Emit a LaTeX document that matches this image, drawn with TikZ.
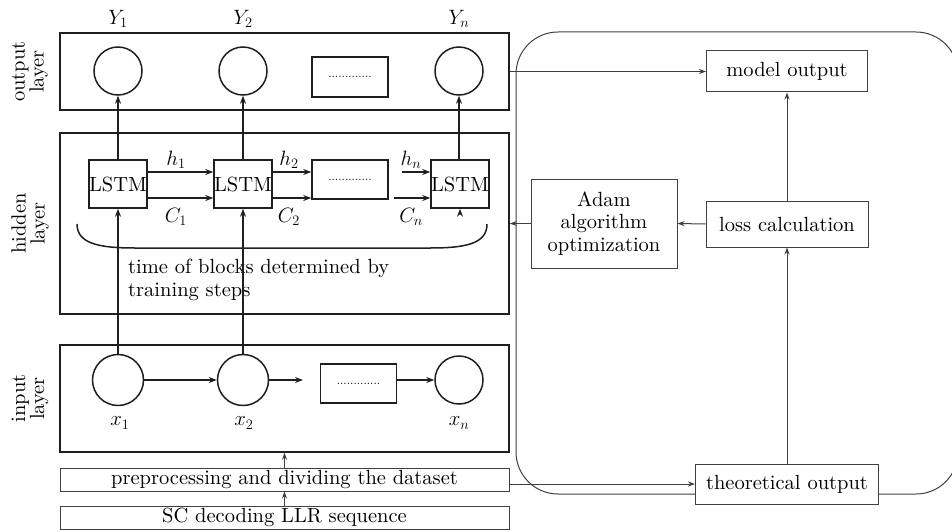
\documentclass[tikz,border=0pt]{standalone}
\usepackage{fontspec}
\setmainfont{lmroman10-regular.otf}[ItalicFont=lmroman10-italic.otf, BoldFont=lmroman10-bold.otf]
\usetikzlibrary{arrows.meta}
\begin{document}
\begin{tikzpicture}[x=1pt,y=-1pt,
  font=\fontsize{20.5}{22.5}\selectfont,
  thick/.style={line width=1.5pt, draw=black!88},
  thin/.style={line width=1pt, draw=black!75},
  layerbox/.style={thick, rectangle, inner sep=0pt},
  lstm/.style={thick, rectangle, inner sep=0pt, minimum width=58pt, minimum height=48pt},
  dotbox/.style={thick, rectangle, inner sep=0pt, minimum width=76pt, minimum height=39pt, font=\fontsize{12}{12}\selectfont},
  outc/.style={thick, circle, inner sep=0pt, minimum size=48pt},
  inc/.style={thick, circle, inner sep=0pt, minimum size=51pt},
  rbox/.style={thin, rectangle, inner sep=0pt, fill=white, align=center},
  arr/.style={thick, -{Stealth[length=8pt,width=6pt]}},
  rarr/.style={thin, -{Stealth[length=7pt,width=5pt]}},
  lbl/.style={inner sep=0pt},
  side/.style={rotate=90, align=center, inner sep=0pt, font=\fontsize{20.5}{19}\selectfont}
]
\useasboundingbox (0,0) rectangle (952,532);

% layer boxes
\node[layerbox, minimum width=449pt, minimum height=77pt] (outL) at (284.5,71.5) {};
\node[layerbox, minimum width=449pt, minimum height=181pt] (hidL) at (284.5,223.5) {};
\node[layerbox, minimum width=449pt, minimum height=107pt] (inL) at (284.5,398.5) {};
\node[thin, rectangle, inner sep=0pt, minimum width=449pt, minimum height=23pt] (pre) at (284.5,479.5) {preprocessing and dividing the dataset};
\node[thin, rectangle, inner sep=0pt, minimum width=449pt, minimum height=23pt] (sc) at (284.5,517.5) {SC decoding LLR sequence};

% side labels
\node[side] (lo) at (30,71.5) {output\\layer};
\node[side] (lh) at (30,223.5) {hidden\\layer};
\node[side] (li) at (30,398.5) {input\\layer};

% output layer
\node[outc] (Y1) at (118,71) {};
\node[outc] (Y2) at (243,71) {};
\node[outc] (Yn) at (459,71) {};
\node[dotbox, minimum height=40pt] (OD) at (350,77) {.............};
\node[lbl] (tY1) at (118,19) {$Y_1$};
\node[lbl] (tY2) at (243,19) {$Y_2$};
\node[lbl] (tYn) at (459,19) {$Y_n$};

% hidden layer
\node[lstm] (L1) at (118,184) {LSTM};
\node[lstm] (L2) at (243,184) {LSTM};
\node[lstm] (L3) at (460,184) {LSTM};
\node[dotbox] (HD) at (350,179.5) {.............};
\draw[arr] ([yshift=12pt]L1.east) -- ([yshift=12pt]L1.east -| L2.west);
\draw[arr] ([yshift=-14pt]L1.east) -- ([yshift=-14pt]L1.east -| L2.west);
\draw[arr] ([yshift=12pt]L2.east) -- ([yshift=12pt]L2.east -| HD.west);
\draw[arr] ([yshift=-14pt]L2.east) -- ([yshift=-14pt]L2.east -| HD.west);
\coordinate (hnS) at (402,172);
\coordinate (cnS) at (394,198);
\draw[arr] (hnS) -- (hnS -| L3.west);
\draw[arr] (cnS) -- (cnS -| L3.west);
\coordinate (cnb) at (460,213);
\draw[arr] (cnb) -- (L3.south);
\node[lbl] (th1) at (176,160) {$h_1$};
\node[lbl] (tC1) at (176,217) {$C_1$};
\node[lbl] (th2) at (289,160) {$h_2$};
\node[lbl] (tC2) at (289,217) {$C_2$};
\node[lbl] (thn) at (411,160) {$h_n$};
\node[lbl] (tCn) at (411,217) {$C_n$};
\draw[thick] (77,224) .. controls (77,244) and (100,248) .. (135,248) -- (430,248) .. controls (465,248) and (487,244) .. (487,224);
\node[lbl, align=left, anchor=north west] (tb) at (128,259) {time of blocks determined by\\training steps};

% input layer
\node[inc] (x1) at (118,380) {};
\node[inc] (x2) at (243,380) {};
\node[outc] (xn) at (459,380) {};
\node[dotbox] (ID) at (358.5,383.5) {.............};
\node[lbl] (tx1) at (120,423) {$x_1$};
\node[lbl] (tx2) at (244,423) {$x_2$};
\node[lbl] (txn) at (459,423) {$x_n$};
\draw[arr] (x1) -- (x2);
\coordinate (x2e) at (303,380);
\draw[arr] (x2.east) -- (x2e);
\draw[arr] (ID.east |- xn.west) -- (xn.west);

% vertical connections
\draw[arr] (x1.north) -- (L1.south);
\draw[arr] (x2.north) -- (L2.south);
\draw[arr] (L1.north) -- (Y1.south);
\draw[arr] (L2.north) -- (Y2.south);
\draw[arr] (L3.north -| Yn.south) -- (Yn.south);
\draw[rarr] (sc.north) -- (pre.south);
\draw[rarr] (pre.north) -- (inL.south);

% right side
\draw[thin, rounded corners=42pt] (516,32) rectangle (958,494);
\node[rbox, minimum width=161pt, minimum height=41pt] (mo) at (787,71.5) {model output};
\node[rbox, minimum width=162pt, minimum height=46pt] (loss) at (787,224) {loss calculation};
\node[rbox, minimum width=146pt, minimum height=89pt] (adam) at (604,223.5) {Adam\\algorithm\\optimization};
\node[rbox, minimum width=183pt, minimum height=40pt] (theo) at (787,484) {theoretical output};
\draw[rarr] (outL.east) -- (mo.west);
\draw[rarr] (loss.north) -- (mo.south);
\draw[rarr] (loss.west) -- (adam.east);
\draw[rarr] (adam.west) -- (adam.west -| hidL.east);
\draw[rarr] (theo.north) -- (loss.south);
\draw[rarr] (pre.east |- theo.west) -- (theo.west);
\end{tikzpicture}
\end{document}
